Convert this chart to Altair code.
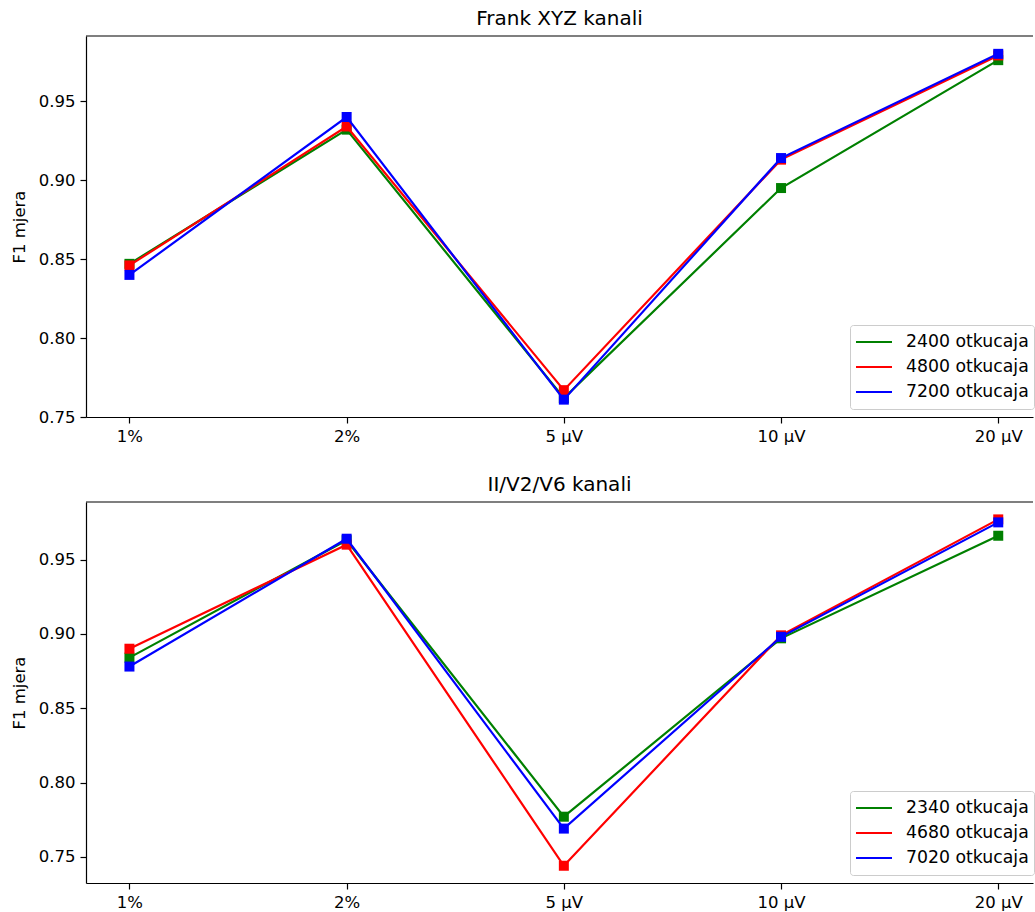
import altair as alt
import pandas as pd

# ---------------- data ----------------
categories = ["1%", "2%", "5 μV", "10 μV", "20 μV"]
series_colors = ["#008000", "#ff0000", "#0000ff"]

top_title = "Frank XYZ kanali"
top_series = ["2400 otkucaja", "4800 otkucaja", "7200 otkucaja"]
top_2400 = [0.847, 0.932, 0.762, 0.895, 0.976]
top_4800 = [0.846, 0.934, 0.767, 0.913, 0.979]
top_7200 = [0.840, 0.940, 0.761, 0.914, 0.980]

bottom_title = "II/V2/V6 kanali"
bottom_series = ["2340 otkucaja", "4680 otkucaja", "7020 otkucaja"]
bottom_2340 = [0.884, 0.963, 0.777, 0.897, 0.966]
bottom_4680 = [0.890, 0.960, 0.744, 0.899, 0.977]
bottom_7020 = [0.878, 0.964, 0.769, 0.898, 0.975]

y_ticks = [0.75, 0.80, 0.85, 0.90, 0.95]
top_y_domain = [0.75, 0.9913]
bottom_y_domain = [0.7324, 0.9887]
x_domain = [-0.2, 4.16]
y_title = "F1 mjera"

# ---------------- layout ----------------
W = 947
H = 381
FONT = "DejaVu Sans"
FS = 16.5
LFS = 17.3

label_expr = "[" + ",".join("'" + c + "'" for c in categories) + "][datum.value]"


def panel(title, series, values, ydom):
    rows = []
    for s, vals in zip(series, values):
        for i, (c, v) in enumerate(zip(categories, vals)):
            rows.append({"idx": i, "cat": c, "series": s, "f1": v})
    df = pd.DataFrame(rows)

    x = alt.X(
        "idx:Q",
        scale=alt.Scale(domain=x_domain, nice=False, zero=False),
        axis=alt.Axis(values=list(range(len(categories))), labelExpr=label_expr,
                      title=None, grid=False),
    )
    y = alt.Y(
        "f1:Q",
        scale=alt.Scale(domain=ydom, nice=False, zero=False),
        axis=alt.Axis(values=y_ticks, format=".2f", title=y_title, grid=False),
    )
    color = alt.Color(
        "series:N",
        scale=alt.Scale(domain=series, range=series_colors),
        legend=alt.Legend(
            title=None, orient="none", legendX=764, legendY=289,
            padding=5, fillColor="rgba(255,255,255,0.8)", strokeColor="#cccccc",
            cornerRadius=3, symbolType="stroke", symbolSize=1296,
            symbolStrokeWidth=2, symbolOffset=0, labelOffset=13, clipHeight=24,
            rowPadding=1, labelFontSize=LFS, labelFont=FONT, labelColor="black",
        ),
    )
    layers = []
    for s in series:
        base = alt.Chart(df).transform_filter(alt.datum.series == s)
        layers.append(base.mark_line(strokeWidth=2.2).encode(x=x, y=y, color=color))
        layers.append(
            base.mark_point(shape="square", filled=True, size=100, opacity=1)
            .encode(x=x, y=y, color=color)
        )
    border = alt.Chart(pd.DataFrame({"k": [0]})).mark_rule(
        color="black", strokeWidth=1.2
    ).encode(x=alt.value(0), x2=alt.value(W), y=alt.value(0))
    return alt.layer(*layers, border).properties(
        width=W,
        height=H,
        title=alt.TitleParams(
            title, font=FONT, fontSize=20, fontWeight="normal", color="black",
            anchor="middle", frame="group", offset=6,
        ),
    )


top = panel(top_title, top_series, [top_2400, top_4800, top_7200], top_y_domain)
bottom = panel(bottom_title, bottom_series, [bottom_2340, bottom_4680, bottom_7020], bottom_y_domain)

chart = (
    alt.vconcat(top, bottom, spacing=30)
    .resolve_scale(x="independent", y="independent", color="independent")
    .resolve_legend(color="independent")
    .properties(padding={"left": 11, "top": 9, "right": 0, "bottom": 0})
    .configure_view(stroke=None)
    .configure_axis(
        domainColor="black", domainWidth=1.2, tickColor="black", tickSize=6,
        tickWidth=1.2, labelFont=FONT, labelFontSize=FS, labelColor="black",
        labelPadding=5, titleFont=FONT, titleFontSize=FS, titleFontWeight="normal",
        titleColor="black", titlePadding=11,
    )
)

chart.save("out.html", embed_options={"renderer": "svg", "actions": False})
